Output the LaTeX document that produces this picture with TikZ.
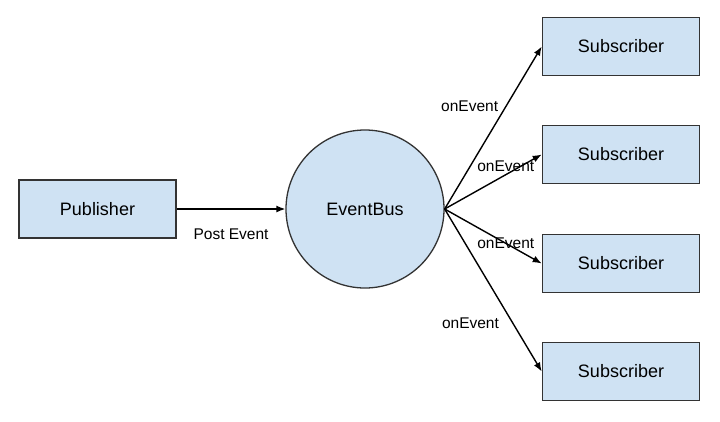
\documentclass[tikz,border=0pt]{standalone}
\usepackage{fontspec}
\setmainfont{Liberation Sans}
\usepackage{tikz}
\usetikzlibrary{arrows.meta, positioning}
\definecolor{paleblue}{HTML}{CFE2F3}

\begin{document}
\begin{tikzpicture}[
            x=1pt, y=-1pt,
            box/.style={draw=black!80, line width=1.6pt, fill=paleblue, minimum width=157pt, minimum height=58pt, inner sep=0pt, font=\fontsize{18}{21}\selectfont},
            bus/.style={circle, draw=black!80, line width=1.3pt, fill=paleblue, minimum size=158pt, inner sep=0pt, font=\fontsize{18}{21}\selectfont},
            arr/.style={-{Latex[length=9pt, width=7pt]}, line width=1.4pt},
            lbl/.style={font=\fontsize{15.5}{18}\selectfont, inner sep=2pt},
        ]
            \useasboundingbox (0,0) rectangle (720,421);

            % ====== Nodes ======
            \node[box] (pub) at (97.5,209) {Publisher};
            \node[bus] (bus) at (365,209) {EventBus};

            \node[box] (sub1) at (621,46.5) {Subscriber};
            \node[box] (sub2) at (621,154.5) {Subscriber};
            \node[box] (sub3) at (621,263.5) {Subscriber};
            \node[box] (sub4) at (621,371.5) {Subscriber};

            % ====== Arrows ======
            \draw[arr] (pub.east) -- (bus.west)
                node[lbl, midway, below=17pt] {Post Event};

            \draw[arr] (bus.east) -- (sub1.west)
                node[lbl, pos=0.63, left=5pt] {onEvent};
            \draw[arr] (bus.east) -- (sub2.west)
                node[lbl, pos=0.63, yshift=8pt] {onEvent};
            \draw[arr] (bus.east) -- (sub3.west)
                node[lbl, pos=0.63] {onEvent};
            \draw[arr] (bus.east) -- (sub4.west)
                node[lbl, pos=0.70, left=11pt] {onEvent};
        \end{tikzpicture}
\end{document}
